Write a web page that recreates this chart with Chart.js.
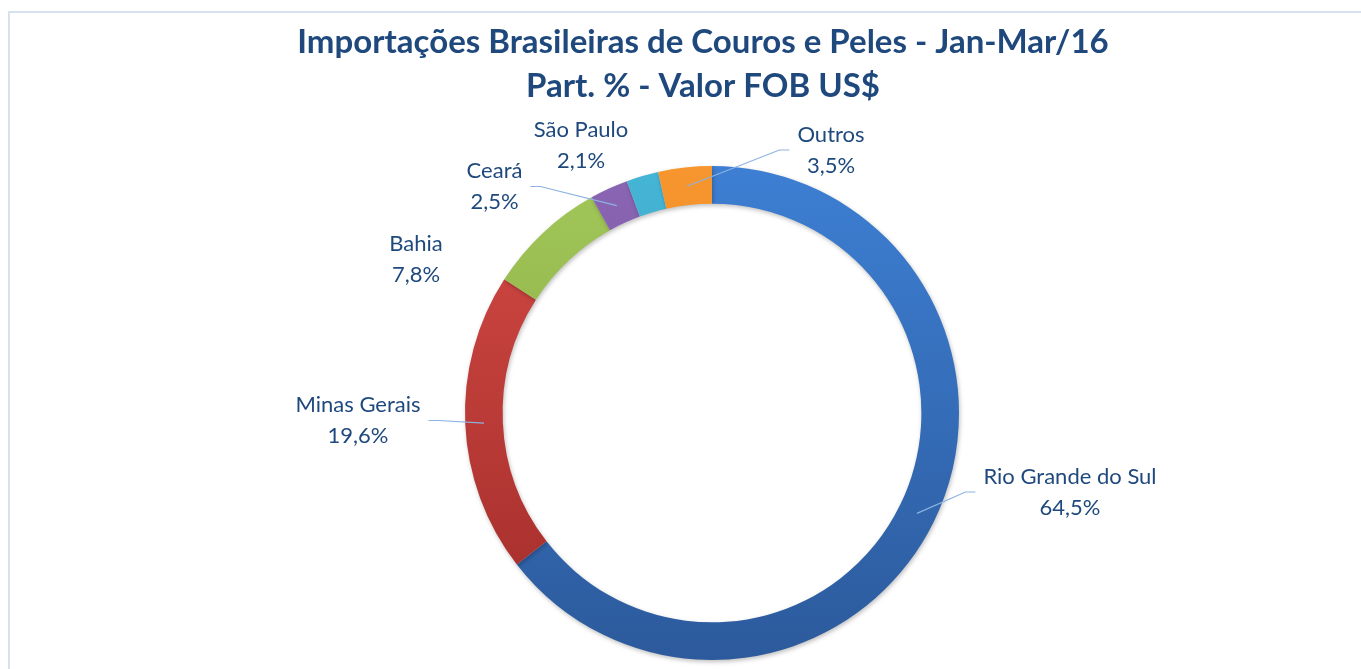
<!DOCTYPE html>
<html>
<head>
<meta charset="utf-8">
<title>Importações Brasileiras de Couros e Peles</title>
<script src="https://cdn.jsdelivr.net/npm/chart.js@4.4.1/dist/chart.umd.min.js"></script>
<style>
  html, body { margin: 0; padding: 0; background: #fff; }
</style>
</head>
<body>
<canvas id="chartCouros" width="1361" height="669"></canvas>
<script>
// dados
var estados = ['Rio Grande do Sul', 'Minas Gerais', 'Bahia', 'Ceará', 'São Paulo', 'Outros'];
var partPct = [64.5, 19.6, 7.8, 2.5, 2.1, 3.5];
var tituloLinhas = ['Importações Brasileiras de Couros e Peles - Jan-Mar/16', 'Part. % - Valor FOB US$'];

// cores em degradê (topo -> base)
var corTopo = ['#3d7fd3', '#d44a45', '#a2c759', '#8a66b4', '#45b5d6', '#f7962f'];
var corBase = ['#2c5a9c', '#a12c29', '#7fa03a', '#6a4690', '#2f93b3', '#e07b17'];

// posição dos rótulos em relação ao centro do anel: [dx, dy, linha guia]
var posRotulos = [[358, 79, true], [-354, 7.5, true], [-296, -153.5, false],
                  [-217.5, -226.5, true], [-131, -268, false], [119, -263, true]];

function fmtPct(v) {
    return v.toFixed(1).replace('.', ',') + '%';
}

var rotulosPlugin = {
    id: 'rotulos',
    beforeDraw: function(chart) {
        var ctx = chart.ctx;
        ctx.save();
        // moldura da área do gráfico
        ctx.strokeStyle = '#d7e2f1';
        ctx.lineWidth = 2;
        ctx.strokeRect(9, 12, 1400, 700);
        // título
        ctx.fillStyle = '#1f497d';
        ctx.font = 'bold 33px Lato';
        ctx.textAlign = 'center';
        ctx.textBaseline = 'alphabetic';
        ctx.fillText(tituloLinhas[0], 703, 53);
        ctx.fillText(tituloLinhas[1], 703, 97);
        ctx.restore();
    },
    beforeDatasetsDraw: function(chart) {
        var ctx = chart.ctx;
        ctx.save();
        ctx.shadowColor = 'rgba(0, 0, 0, 0.25)';
        ctx.shadowBlur = 4;
        ctx.shadowOffsetX = 1;
        ctx.shadowOffsetY = 2;
    },
    afterDatasetsDraw: function(chart) {
        var ctx = chart.ctx;
        ctx.restore();

        var arcs = chart.getDatasetMeta(0).data;
        var cx = arcs[0].x, cy = arcs[0].y;
        ctx.save();
        ctx.font = '22px Lato';
        ctx.textAlign = 'center';
        ctx.textBaseline = 'middle';
        ctx.fillStyle = '#1f497d';
        ctx.strokeStyle = '#8db3e2';
        ctx.lineWidth = 1.2;
        arcs.forEach(function(arc, i) {
            var p = posRotulos[i];
            var tx = cx + p[0], ty = cy + p[1];
            var linha1 = estados[i], linha2 = fmtPct(partPct[i]);
            var w = Math.max(ctx.measureText(linha1).width, ctx.measureText(linha2).width);
            if (p[2]) {
                var m = arc.getCenterPoint();
                var dir = m.x < tx ? -1 : 1;
                var fim = tx + dir * (w / 2 + 8);
                var cotovelo = fim + dir * 10;
                ctx.beginPath();
                ctx.moveTo(m.x, m.y);
                ctx.lineTo(cotovelo, ty);
                ctx.lineTo(fim, ty);
                ctx.stroke();
            }
            ctx.fillText(linha1, tx, ty - 15.5);
            ctx.fillText(linha2, tx, ty + 15.5);
        });
        ctx.restore();
    }
};

var ctx = document.getElementById('chartCouros');
var graficoCouros = new Chart(ctx, {
    type: 'doughnut',
    data: {
        labels: estados,
        datasets: [{
            data: partPct,
            backgroundColor: function(context) {
                var i = context.dataIndex;
                var area = context.chart.chartArea;
                if (!area) return corTopo[i];
                var meio = (area.top + area.bottom) / 2;
                var g = context.chart.ctx.createLinearGradient(0, meio - 247, 0, meio + 247);
                g.addColorStop(0, corTopo[i]);
                g.addColorStop(1, corBase[i]);
                return g;
            },
            borderWidth: 0,
            hoverOffset: 0
        }]
    },
    options: {
        responsive: false,
        animation: false,
        radius: 247,
        cutout: 217,
        layout: {
            padding: { left: 200, right: 137, top: 157, bottom: 0 }
        },
        plugins: {
            legend: { display: false },
            title: { display: false },
            tooltip: { enabled: false }
        }
    },
    plugins: [rotulosPlugin]
});
</script>
</body>
</html>
